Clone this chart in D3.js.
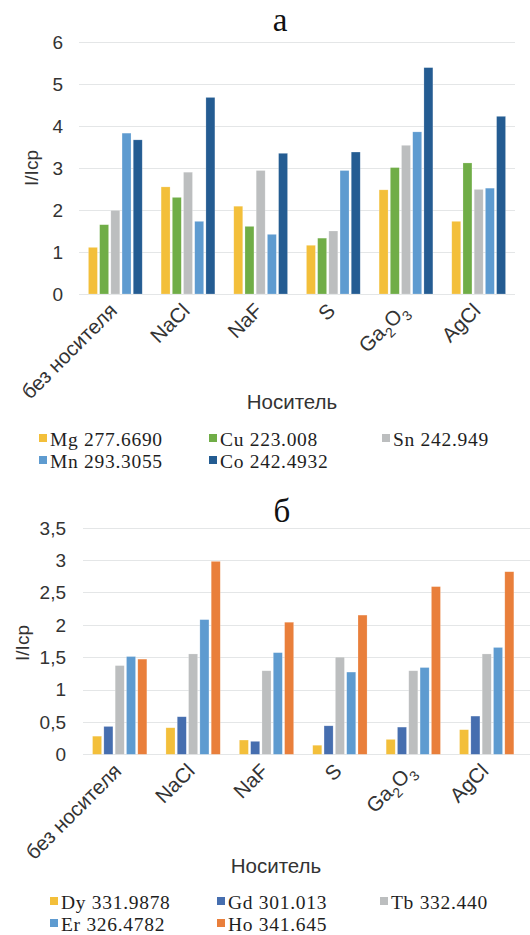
<!DOCTYPE html>
<html><head><meta charset="utf-8">
<script src="https://cdn.jsdelivr.net/npm/d3@7"></script>
<style>body{margin:0;background:#fff}svg{display:block}</style>
</head><body>
<svg id="c" width="530" height="935"></svg>
<script>
const categories = ["без носителя","NaCl","NaF","S","Ga2O3","AgCl"];

const seriesA = ["Mg 277.6690","Cu 223.008","Sn 242.949","Mn 293.3055","Co 242.4932"];
const colorsA = ["#F3BF3A","#70AD47","#BCBEBF","#5E9BD0","#245C92"];
const mgA = [1.11,2.55,2.09,1.16,2.48,1.73];
const cuA = [1.65,2.30,1.61,1.33,3.01,3.12];
const snA = [1.99,2.90,2.94,1.50,3.54,2.49];
const mnA = [3.83,1.73,1.42,2.94,3.86,2.52];
const coA = [3.67,4.68,3.35,3.38,5.39,4.23];
const ticksA = [0,1,2,3,4,5,6];

const seriesB = ["Dy 331.9878","Gd 301.013","Tb 332.440","Er 326.4782","Ho 341.645"];
const colorsB = ["#F3BF3A","#466EAF","#BCBEBF","#5E9BD0","#E97F3B"];
const dyB = [0.28,0.41,0.22,0.14,0.23,0.38];
const gdB = [0.43,0.58,0.20,0.44,0.42,0.59];
const tbB = [1.37,1.55,1.29,1.50,1.29,1.55];
const erB = [1.51,2.08,1.57,1.27,1.34,1.65];
const hoB = [1.47,2.98,2.04,2.15,2.59,2.82];
const ticksB = [0,0.5,1,1.5,2,2.5,3,3.5];

const svg = d3.select("#c");
const sans = "'Liberation Sans', Arial, sans-serif";
const serif = "'Liberation Serif', 'Times New Roman', serif";

function drawChart(o){
  const g = svg.append("g");
  const x = d3.scaleBand().domain(categories).range([o.x0,o.x1]).paddingInner(0.26).paddingOuter(0.13);
  const xs = d3.scaleBand().domain(d3.range(o.series.length)).range([0,x.bandwidth()]).paddingInner(0.2);
  const y = d3.scaleLinear().domain([0,o.ymax]).range([o.yb,o.yt]);
  // title
  g.append("text").attr("x",o.titleX).attr("y",o.titleY).attr("text-anchor","middle")
    .style("font-family",serif).style("font-size","33px").attr("fill","#111").text(o.title);
  // grid
  g.selectAll("line.grid").data(o.ticks).join("line")
    .attr("x1",o.x0).attr("x2",o.gridX1).attr("y1",d=>Math.round(y(d))+0.5).attr("y2",d=>Math.round(y(d))+0.5)
    .attr("stroke","#E4E6E7").attr("stroke-width",1.2);
  // y tick labels
  g.selectAll("text.yt").data(o.ticks).join("text")
    .attr("x",o.tickX).attr("y",d=>y(d)).attr("dy","0.36em").attr("text-anchor","end")
    .style("font-family",sans).style("font-size","19px").attr("fill","#333")
    .text(d=>String(d).replace(".",","));
  // y label
  g.append("text").attr("transform",`translate(${o.ylabX},${o.ylabY}) rotate(-90)`)
    .attr("text-anchor","middle").style("font-family",sans).style("font-size","19px").attr("fill","#333").text("I/Icp");
  // bars
  o.values.forEach((vals,si)=>{
    g.selectAll(null).data(vals).join("rect")
      .attr("x",(d,i)=>x(categories[i])+xs(si)).attr("width",xs.bandwidth())
      .attr("y",d=>y(d)).attr("height",d=>y(0)-y(d))
      .attr("fill",o.colors[si]).attr("stroke","#ffffff").attr("stroke-opacity",0.35).attr("stroke-width",0.6);
  });
  // x labels
  categories.forEach(c=>{
    const cx = x(c)+x.bandwidth()/2+3, cy = o.yb+18;
    const t = g.append("text").attr("transform",`translate(${cx},${cy}) rotate(-45)`)
      .attr("text-anchor","end").style("font-family",sans).style("font-size","20.5px").attr("fill","#333");
    if(c==="Ga2O3"){
      t.append("tspan").text("Ga");
      t.append("tspan").text("2").attr("dy","6").style("font-size","14px");
      t.append("tspan").text("O").attr("dy","-6");
      t.append("tspan").text("3").attr("dy","6").style("font-size","14px");
    } else t.text(c);
  });
  // x axis title
  g.append("text").attr("x",o.xtX).attr("y",o.xtY).attr("text-anchor","middle")
    .style("font-family",sans).style("font-size","20.5px").attr("fill","#333").text("Носитель");
  // legend
  o.series.forEach((s,i)=>{
    const col = i%3, row = Math.floor(i/3);
    const lx = o.legX[col], ly = o.legY[row];
    g.append("rect").attr("x",lx).attr("y",ly-12).attr("width",8).attr("height",8).attr("fill",o.colors[i]);
    g.append("text").attr("x",lx+11).attr("y",ly).style("font-family",serif).style("font-size","19.5px")
      .style("letter-spacing","0.7px").attr("fill","#1e1e1e").text(s);
  });
}

drawChart({title:"a",titleX:280,titleY:31,x0:79,x1:515,gridX1:515,yb:294,yt:42,ymax:6,ticks:ticksA,
  tickX:63,ylabX:38,ylabY:168,series:seriesA,colors:colorsA,values:[mgA,cuA,snA,mnA,coA],
  xtX:292,xtY:409,legX:[39,209,382],legY:[446,468]});
drawChart({title:"б",titleX:282,titleY:522,x0:83,x1:523.4,gridX1:530,yb:754.3,yt:527.7,ymax:3.5,ticks:ticksB,
  tickX:66,ylabX:29,ylabY:643,series:seriesB,colors:colorsB,values:[dyB,gdB,tbB,erB,hoB],
  xtX:276,xtY:873,legX:[50,217,380],legY:[909,931]});
</script>
</body></html>
